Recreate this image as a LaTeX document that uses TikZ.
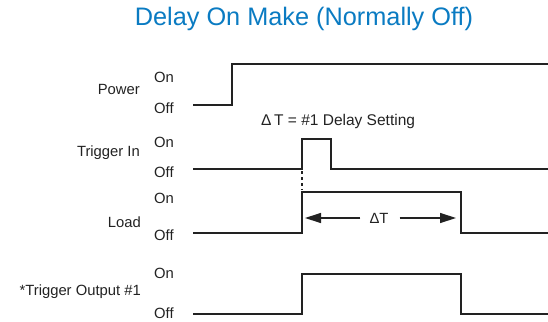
\documentclass[tikz,border=0pt]{standalone}
\usepackage{fontspec}
\setmainfont{Liberation Sans}
\usetikzlibrary{arrows.meta}
\definecolor{titleblue}{HTML}{0A7BC2}
\definecolor{wave}{HTML}{222222}
\begin{document}
\begin{tikzpicture}[x=1pt,y=-1pt,
  wv/.style={draw=wave,line width=1.4pt,line join=miter},
  lvl/.style={anchor=west,inner sep=0pt,font=\fontsize{14.8}{16}\selectfont,text=wave},
  sig/.style={anchor=east,inner sep=0pt,font=\fontsize{14.8}{16}\selectfont,text=wave},
  dim/.style={draw=wave,line width=1.3pt,-{Triangle[length=16pt,width=10pt]}}]
\useasboundingbox (0,0) rectangle (548,321);
% title
\node[font=\fontsize{25.3}{27}\selectfont,text=titleblue,inner sep=0pt] (title) at (304,19) {Delay On Make (Normally Off)};
% Power
\node[sig] (lp) at (140,89) {Power};
\node[lvl] (pon) at (154,77) {On};
\node[lvl] (poff) at (154,108) {Off};
\draw[wv] (193,105) -- (232,105) -- (232,64) -- (548,64);
% Trigger In
\node[sig] (lt) at (140,153) {Trigger In};
\node[lvl] (ton) at (154,142) {On};
\node[lvl] (toff) at (154,172) {Off};
\draw[wv] (193,169) -- (302,169) -- (302,139) -- (331,139) -- (331,169) -- (548,169);
\node[inner sep=0pt,anchor=west,font=\fontsize{15.5}{17}\selectfont,text=wave] (note) at (261,121) {Δ\,T = \#1 Delay Setting};
\draw[draw=wave,line width=1.2pt,dash pattern=on 3pt off 3pt] (302,171) -- (302,190);
% Load
\node[sig] (ll) at (141,222) {Load};
\node[lvl] (lon) at (154,198) {On};
\node[lvl] (loff) at (154,235) {Off};
\draw[wv] (193,233) -- (302,233) -- (302,192) -- (461,192) -- (461,233) -- (548,233);
\node[inner sep=0pt,font=\fontsize{14.8}{16}\selectfont,text=wave] (dt) at (379,218) {ΔT};
\coordinate (al) at (305,218);
\coordinate (ar) at (456,218);
\draw[dim] ([xshift=-9pt]dt.west) -- (al);
\draw[dim] ([xshift=11pt]dt.east) -- (ar);
% Trigger Output
\node[sig] (lo) at (141,292) {*Trigger Output \#1};
\node[lvl] (oon) at (154,273) {On};
\node[lvl] (ooff) at (154,313) {Off};
\draw[wv] (193,314) -- (302,314) -- (302,274) -- (461,274) -- (461,314) -- (548,314);
\end{tikzpicture}
\end{document}
